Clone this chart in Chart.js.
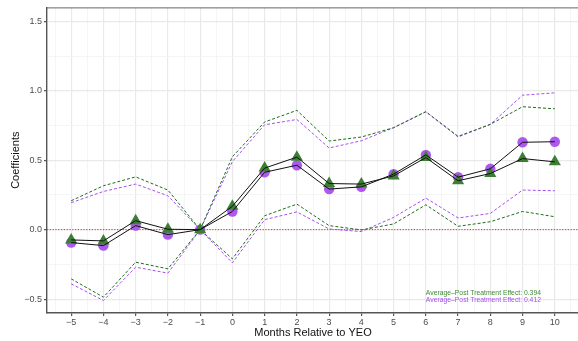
<!DOCTYPE html>
<html>
<head>
<meta charset="utf-8">
<script src="https://cdn.jsdelivr.net/npm/chart.js@4/dist/chart.umd.min.js"></script>
<style>
  html, body { margin: 0; padding: 0; background: #fff; overflow: hidden; }
  #wrap { width: 586px; height: 341px; }
</style>
</head>
<body>
<div id="wrap"><canvas id="chart" width="586" height="341"></canvas></div>
<script>
// Months relative to YEO
const months = [-5, -4, -3, -2, -1, 0, 1, 2, 3, 4, 5, 6, 7, 8, 9, 10];

// Green series (triangles) with confidence bands
const greenCoef  = [-0.074, -0.081, 0.065, 0.003, 0, 0.168, 0.443, 0.522, 0.332, 0.328, 0.387, 0.519, 0.352, 0.404, 0.512, 0.488];
const greenUpper = [0.208, 0.316, 0.380, 0.285, 0, 0.525, 0.775, 0.859, 0.638, 0.667, 0.734, 0.849, 0.672, 0.758, 0.885, 0.870];
const greenLower = [-0.354, -0.486, -0.234, -0.282, 0, -0.210, 0.100, 0.184, 0.029, -0.002, 0.041, 0.179, 0.024, 0.057, 0.131, 0.093];

// Purple series (circles) with confidence bands
const purpleCoef  = [-0.093, -0.115, 0.029, -0.036, 0, 0.131, 0.413, 0.464, 0.292, 0.308, 0.400, 0.538, 0.378, 0.438, 0.629, 0.633];
const purpleUpper = [0.194, 0.275, 0.328, 0.244, 0, 0.490, 0.755, 0.793, 0.588, 0.640, 0.734, 0.849, 0.667, 0.758, 0.968, 0.985];
const purpleLower = [-0.390, -0.510, -0.270, -0.313, 0, -0.239, 0.072, 0.128, 0.005, -0.014, 0.088, 0.227, 0.084, 0.117, 0.285, 0.280];

// Average post-treatment effects
const avgGreen = 0.394;
const avgPurple = 0.412;

// Tick labels
const yTicks = [-0.5, 0, 0.5, 1.0, 1.5];
const xTicks = months;

const pts = arr => months.map((m, i) => ({ x: m, y: arr[i] }));
const minus = s => s.replace('-', '\u2212');

const green = '#3c7f34';
const greenDash = '#1e6b1e';
const purple = 'rgba(164, 76, 236, 0.92)';
const purpleDash = '#a64ff0';
const font = 'Liberation Sans, Arial, sans-serif';

const isMajorY = v => yTicks.some(t => Math.abs(t - v) < 1e-9);
const isMajorX = v => xTicks.some(t => Math.abs(t - v) < 1e-9);

// Red zero line, top border and annotation text
const extras = {
    id: 'extras',
    beforeDatasetsDraw(chart) {
        const { ctx, chartArea } = chart;
        const y0 = chart.scales.y.getPixelForValue(0);
        ctx.save();
        ctx.strokeStyle = '#ff2020';
        ctx.lineWidth = 1;
        ctx.setLineDash([1.2, 1.6]);
        ctx.beginPath();
        ctx.moveTo(chartArea.left, y0);
        ctx.lineTo(chartArea.right, y0);
        ctx.stroke();
        ctx.setLineDash([]);
        ctx.strokeStyle = '#666';
        ctx.lineWidth = 1;
        ctx.beginPath();
        ctx.moveTo(chartArea.left, chartArea.top + 0.5);
        ctx.lineTo(chartArea.right, chartArea.top + 0.5);
        ctx.stroke();
        ctx.restore();
    },
    afterDraw(chart) {
        const { ctx } = chart;
        const x = chart.scales.x.getPixelForValue(6);
        ctx.save();
        ctx.font = '6.8px ' + font;
        ctx.textAlign = 'left';
        ctx.textBaseline = 'middle';
        ctx.fillStyle = '#3f8a36';
        ctx.fillText('Average\u2013Post Treatment Effect: ' + avgGreen.toFixed(3), x, chart.scales.y.getPixelForValue(-0.454));
        ctx.fillStyle = '#a74ff0';
        ctx.fillText('Average\u2013Post Treatment Effect: ' + avgPurple.toFixed(3), x, chart.scales.y.getPixelForValue(-0.507));
        ctx.restore();
    }
};

const band = (data, color) => ({
    data: pts(data),
    borderColor: color,
    borderWidth: 1,
    borderDash: [3, 2],
    pointRadius: 0,
    fill: false,
    order: 3
});

new Chart(document.getElementById('chart'), {
    type: 'line',
    data: {
        datasets: [
            band(greenUpper, greenDash),
            band(greenLower, greenDash),
            band(purpleUpper, purpleDash),
            band(purpleLower, purpleDash),
            {
                data: pts(greenCoef),
                showLine: false,
                pointStyle: 'triangle',
                pointRadius: 7,
                pointBorderWidth: 0,
                pointBackgroundColor: green,
                order: 2
            },
            {
                data: pts(purpleCoef),
                showLine: false,
                pointStyle: 'circle',
                pointRadius: 5.2,
                pointBorderWidth: 0,
                pointBackgroundColor: purple,
                order: 2
            },
            {
                data: pts(greenCoef),
                borderColor: '#111',
                borderWidth: 1,
                pointRadius: 0,
                order: 1
            },
            {
                data: pts(purpleCoef),
                borderColor: '#111',
                borderWidth: 1,
                pointRadius: 0,
                order: 1
            }
        ]
    },
    options: {
        responsive: false,
        animation: false,
        layout: { padding: { left: 0, top: 6, right: 3, bottom: 0 } },
        plugins: { legend: { display: false }, tooltip: { enabled: false } },
        scales: {
            x: {
                type: 'linear',
                min: -5.75,
                max: 10.75,
                afterFit: s => { s.height = 28; },
                afterBuildTicks: s => {
                    const t = [];
                    for (let v = -5.5; v <= 10.5 + 1e-9; v += 0.5) t.push({ value: v });
                    s.ticks = t;
                },
                ticks: {
                    autoSkip: false,
                    maxRotation: 0,
                    padding: 1,
                    color: '#4d4d4d',
                    font: { family: font, size: 9 },
                    callback: v => isMajorX(v) ? minus(String(v)) : ''
                },
                grid: {
                    color: c => c.tick && isMajorX(c.tick.value) ? '#e9e9e9' : '#f3f3f3',
                    lineWidth: c => c.tick && isMajorX(c.tick.value) ? 1.2 : 0.8,
                    tickColor: c => c.tick && isMajorX(c.tick.value) ? '#555' : 'rgba(0,0,0,0)',
                    tickLength: 3
                },
                border: { color: '#555', width: 1.4 },
                title: {
                    display: true,
                    text: 'Months Relative to YEO',
                    color: '#111',
                    font: { family: font, size: 11 },
                    padding: { top: 0, bottom: 1 }
                }
            },
            y: {
                min: -0.6,
                max: 1.6,
                afterFit: s => { s.width = 47; },
                afterBuildTicks: s => {
                    const t = [];
                    for (let v = -0.5; v <= 1.5 + 1e-9; v += 0.25) t.push({ value: Math.round(v * 100) / 100 });
                    s.ticks = t;
                },
                ticks: {
                    autoSkip: false,
                    padding: 2,
                    color: '#4d4d4d',
                    font: { family: font, size: 9 },
                    callback: v => isMajorY(v) ? minus(v.toFixed(1)) : ''
                },
                grid: {
                    color: c => c.tick && isMajorY(c.tick.value) ? '#e9e9e9' : '#f3f3f3',
                    lineWidth: c => c.tick && isMajorY(c.tick.value) ? 1.2 : 0.8,
                    tickColor: c => c.tick && isMajorY(c.tick.value) ? '#555' : 'rgba(0,0,0,0)',
                    tickLength: 3
                },
                border: { color: '#555', width: 1.4 },
                title: {
                    display: true,
                    text: 'Coefficients',
                    color: '#111',
                    font: { family: font, size: 11 },
                    padding: { top: 9, bottom: 0 }
                }
            }
        }
    },
    plugins: [extras]
});
</script>
</body>
</html>
